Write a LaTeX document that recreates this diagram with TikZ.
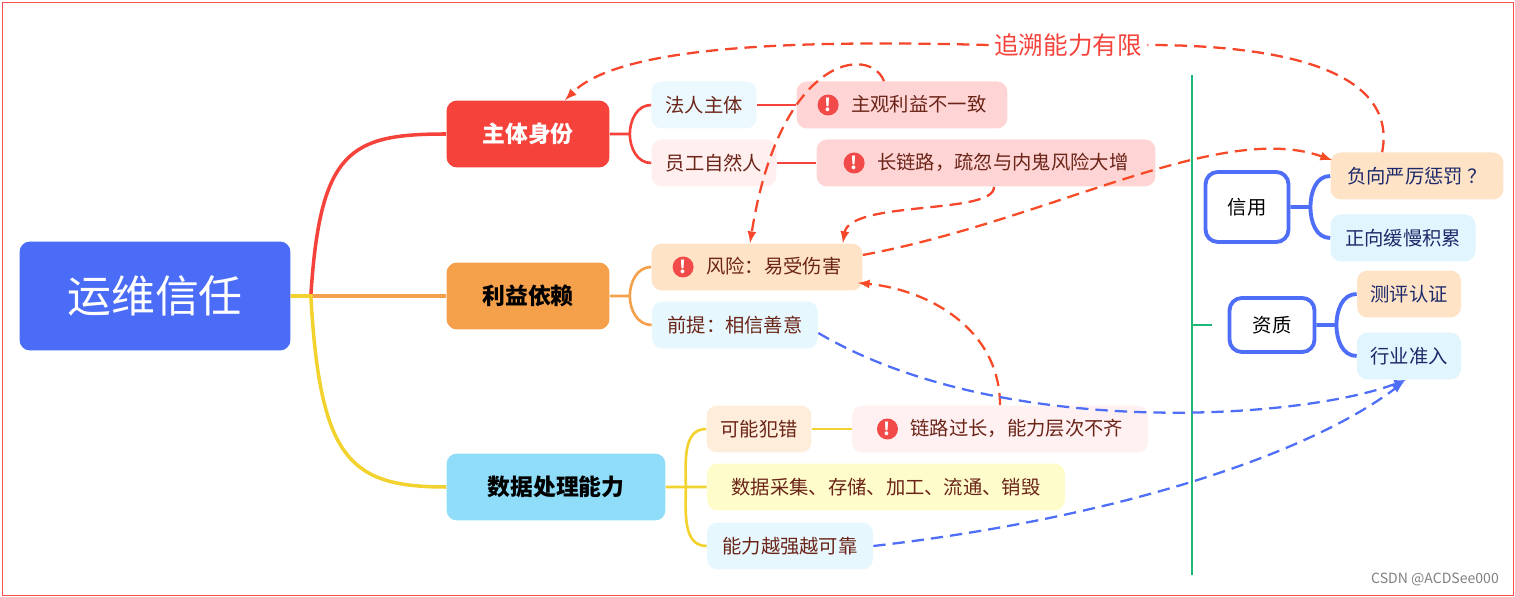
\documentclass[tikz,border=0pt]{standalone}
\usepackage{fontspec}
\setmainfont{Noto Sans CJK SC}
\usetikzlibrary{calc}
\definecolor{rootblue}{HTML}{4A6CF7}
\definecolor{topred}{HTML}{F5433C}
\definecolor{toporange}{HTML}{F5A04A}
\definecolor{topcyan}{HTML}{8FDDF8}
\definecolor{lineyellow}{HTML}{F2D22E}
\definecolor{warnred}{HTML}{F24A48}
\definecolor{arrowred}{HTML}{F5452A}
\definecolor{arrowblue}{HTML}{4F6EF7}
\definecolor{railgreen}{HTML}{1DB878}
\definecolor{leaftext}{HTML}{6B2418}
\definecolor{sidetext}{HTML}{1C2A6B}
\tikzset{
	rootstyle/.style={rectangle,rounded corners=6,fill=rootblue,text=white,font=\fontsize{25}{25}\selectfont,minimum width=5.42cm,minimum height=2.18cm},
	topstyle/.style={rectangle,rounded corners=6,minimum height=1.34cm,font=\fontsize{13}{13}\selectfont\bfseries},
	leafstyle/.style={rectangle,rounded corners=6,minimum height=0.94cm,font=\fontsize{11}{11}\selectfont,text=leaftext},
	sidestyle/.style={rectangle,rounded corners=7,draw=arrowblue,line width=2.2pt,fill=white,font=\fontsize{11}{11}\selectfont},
	sideleaf/.style={leafstyle,text=sidetext},
	linkstyle/.style={dashed,line width=1.3pt,-latex,dash pattern=on 7pt off 4pt}
}
\newcommand{\warnicon}{\tikz[baseline=-0.6ex]\node[circle,fill=warnred,text=white,inner sep=0pt,minimum size=0.42cm,font=\fontsize{10}{10}\selectfont\bfseries]{!};\hspace{0.25cm}}
\begin{document}
\begin{tikzpicture}[x=0.02cm,y=-0.02cm]
	\useasboundingbox (0,0) rectangle (1515,597);
	\draw[red!70,line width=0.4pt] (2,2) rectangle (1513,595);
	\node[rootstyle] (root) at (155,296) {运维信任};
	\node[topstyle,fill=topred,text=white,minimum width=3.26cm] (subj) at (528,134) {主体身份};
	\node[topstyle,fill=toporange,minimum width=3.26cm] (dep) at (528,296) {利益依赖};
	\node[topstyle,fill=topcyan,minimum width=4.38cm] (data) at (556,487) {数据处理能力};
	\node[leafstyle,fill=cyan!8,minimum width=2.1cm] (legal) at (704,105) {法人主体};
	\node[leafstyle,fill=pink!25,minimum width=2.5cm] (staff) at (714,163) {员工自然人};
	\node[leafstyle,fill=red!17,minimum width=4.22cm] (interest) at (902,105) {\warnicon 主观利益不一致};
	\node[leafstyle,fill=red!17,minimum width=6.78cm] (chain) at (986,163) {\warnicon 长链路，疏忽与内鬼风险大增};
	\node[leafstyle,fill=orange!22,minimum width=4.22cm] (risk) at (757,267) {\warnicon 风险：易受伤害};
	\node[leafstyle,fill=cyan!10,minimum width=3.32cm] (trust) at (735,325) {前提：相信善意};
	\node[leafstyle,fill=orange!14,minimum width=2.1cm] (err) at (759,429) {可能犯错};
	\node[leafstyle,fill=pink!22,minimum width=5.92cm] (long) at (1000,429) {\warnicon 链路过长，能力层次不齐};
	\node[leafstyle,fill=yellow!20,minimum width=7.16cm] (flow) at (886,487) {数据采集、存储、加工、流通、销毁};
	\node[leafstyle,fill=cyan!10,minimum width=3.32cm] (able) at (790,546) {能力越强越可靠};
	\draw[railgreen,line width=1.5pt] (1192,75) coordinate (rtop) -- (1192,575) coordinate (rbot);
	\draw[railgreen,line width=1.5pt] (1192,325) -- (1212,325) coordinate (rtick);
	\node[sidestyle,minimum width=1.66cm,minimum height=1.4cm] (credit) at (1247,207) {信用};
	\node[sideleaf,fill=orange!22,minimum width=3.46cm] (punish) at (1417,176) {负向严厉惩罚 ？};
	\node[sideleaf,fill=cyan!12,minimum width=2.9cm] (accum) at (1403,238) {正向缓慢积累};
	\node[sidestyle,minimum width=1.7cm,minimum height=1.08cm] (qual) at (1272,325) {资质};
	\node[sideleaf,fill=orange!22,minimum width=2.08cm] (cert) at (1409,294) {测评认证};
	\node[sideleaf,fill=cyan!12,minimum width=2.08cm] (admit) at (1409,356) {行业准入};
	% trunk
	\draw[topred,line width=2pt] (root.east) -- ++(20,0) .. controls (320,150) and (350,134) .. (subj.west);
	\draw[toporange,line width=2pt] (root.east) -- (dep.west);
	\draw[lineyellow,line width=2pt] (root.east) -- ++(20,0) .. controls (320,460) and (350,487) .. (data.west);
	% branches
	\draw[topred,line width=1.5pt] (subj.east) -- ++(20,0) coordinate (sb) (sb) to[out=90,in=180] (legal.west) (sb) to[out=-90,in=180] (staff.west);
	\draw[toporange,line width=1.5pt] (dep.east) -- ++(20,0) coordinate (db) (db) to[out=90,in=180] (risk.west) (db) to[out=-90,in=180] (trust.west);
	\draw[lineyellow,line width=1.5pt] (data.east) -- (flow.west) ($(data.east)+(20,0)$) coordinate (yb) (yb) to[out=90,in=180] (err.west) (yb) to[out=-90,in=180] (able.west);
	\draw[topred,line width=1.5pt] (legal.east) -- (interest.west);
	\draw[topred,line width=1.5pt] (staff.east) -- (chain.west);
	\draw[lineyellow,line width=1.5pt] (err.east) -- (long.west);
	\draw[arrowblue,line width=2.2pt] (credit.east) -- ++(20,0) coordinate (cb) (cb) to[out=90,in=180] (punish.west) (cb) to[out=-90,in=180] (accum.west);
	\draw[arrowblue,line width=2.2pt] (qual.east) -- ++(20,0) coordinate (qb) (qb) to[out=90,in=180] (cert.west) (qb) to[out=-90,in=180] (admit.west);
	% links
	\node[fill=white,text=topred,font=\fontsize{14}{14}\selectfont,inner sep=3pt] (trace) at (1068,45) {追溯能力有限};
	\draw[linkstyle,arrowred,-] ($(punish.north west)+(52,0)$) .. controls (1400,60) and (1250,45) .. (trace.east);
	\draw[linkstyle,arrowred] (trace.west) .. controls (800,40) and (620,45) .. ($(subj.north)+(37,0)$);
	\draw[linkstyle,arrowred] ($(interest.north)+(-18,0)$) .. controls (870,45) and (780,55) .. ($(risk.north)+(-7,0)$);
	\draw[linkstyle,arrowred] ($(chain.south)+(8,0)$) .. controls (995,215) and (850,200) .. ($(risk.north east)+(-20,0)$);
	\draw[linkstyle,arrowred!90!orange] ($(risk.east)+(0,-12)$) .. controls (1050,220) and (1220,120) .. ($(punish.north west)+(2,8)$);
	\draw[linkstyle,arrowred!90!orange] (long.north) .. controls (1000,330) and (930,290) .. ($(risk.south east)+(-5,-8)$);
	\draw[linkstyle,arrowblue] ($(trust.east)+(0,8)$) .. controls (1000,440) and (1300,420) .. ($(admit.south)+(-3,0)$);
	\draw[linkstyle,arrowblue] (able.east) .. controls (1100,520) and (1300,460) .. ($(admit.south)+(-5,2)$);
	\node[text=gray,font=\fontsize{8}{8}\selectfont,anchor=south east] (mark) at (1505,592) {CSDN @ACDSee000};
\end{tikzpicture}
\end{document}
